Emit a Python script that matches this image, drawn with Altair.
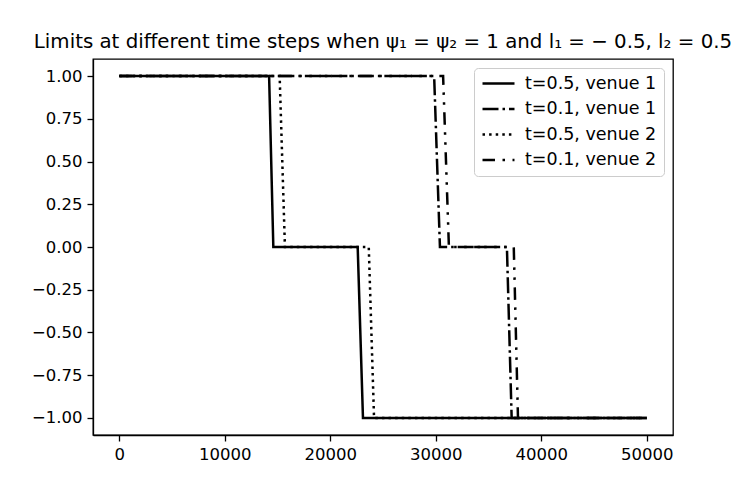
import altair as alt
import pandas as pd

# Series data (x = step index, y = limit)
s1_x = [0, 14200, 14600, 22600, 23100, 50000]
s1_y = [1, 1, 0, 0, -1, -1]
s2_x = [0, 29850, 30400, 36750, 37200, 50000]
s2_y = [1, 1, 0, 0, -1, -1]
s3_x = [0, 15200, 15700, 23650, 24150, 50000]
s3_y = [1, 1, 0, 0, -1, -1]
s4_x = [0, 30700, 31250, 37400, 37800, 50000]
s4_y = [1, 1, 0, 0, -1, -1]

names = ["t=0.5, venue 1", "t=0.1, venue 1", "t=0.5, venue 2", "t=0.1, venue 2"]
xs = [s1_x, s2_x, s3_x, s4_x]
ys = [s1_y, s2_y, s3_y, s4_y]

x_ticks = [0, 10000, 20000, 30000, 40000, 50000]
y_ticks = [-1.0, -0.75, -0.5, -0.25, 0.0, 0.25, 0.5, 0.75, 1.0]

rows = []
for n, xx, yy in zip(names, xs, ys):
    for i, (a, b) in enumerate(zip(xx, yy)):
        rows.append({"series": n, "x": a, "y": b, "order": i})
df = pd.DataFrame(rows)

dashes = [[1, 0], [16, 4, 2.5, 4], [2.5, 4.1], [12.5, 7.5, 2.5, 7.5, 2.5, 7.5]]

font = "DejaVu Sans"

chart = alt.Chart(df).mark_line(color="black", strokeWidth=2.5, strokeCap="butt").encode(
    x=alt.X("x:Q", scale=alt.Scale(domain=[-2500, 52500], nice=False, zero=False),
            axis=alt.Axis(values=x_ticks, format="d", title=None)),
    y=alt.Y("y:Q", scale=alt.Scale(domain=[-1.1, 1.1], nice=False, zero=False),
            axis=alt.Axis(values=y_ticks, format=".2f", title=None,
                          labelExpr="replace(datum.label, '-', '\u2212')")),
    strokeDash=alt.StrokeDash("series:N",
                              scale=alt.Scale(domain=names, range=dashes),
                              legend=alt.Legend(title=None, orient="top-right", offset=9)),
    detail="series:N",
    order="order:Q",
).properties(
    width=580,
    height=376,
    title=alt.TitleParams(
        "Limits at different time steps when \u03c8\u2081 = \u03c8\u2082 = 1 and l\u2081 = \u2212 0.5, l\u2082 = 0.5",
        font=font, fontSize=19.8, fontWeight="normal", color="black", offset=7, anchor="middle"),
    autosize=alt.AutoSizeParams(type="none"),
    padding={"left": 85, "top": 51, "right": 66, "bottom": 50},
).configure_view(
    stroke="black", strokeWidth=1.3
).configure_axis(
    grid=False, domain=True, domainColor="black", tickColor="black", tickSize=6,
    tickWidth=1.3, domainWidth=1.3,
    labelFont=font, labelFontSize=16.5, labelColor="black", labelPadding=5,
).configure_legend(
    labelFont=font, labelFontSize=17.5, labelColor="black",
    symbolType="stroke", symbolSize=1024, symbolStrokeWidth=2.5, symbolStrokeColor="black",
    strokeColor="#cccccc", fillColor="white", padding=7, cornerRadius=4,
    clipHeight=17, rowPadding=7.5, labelOffset=9,
)

chart.save("out.html", embed_options={"renderer": "svg", "actions": False})
